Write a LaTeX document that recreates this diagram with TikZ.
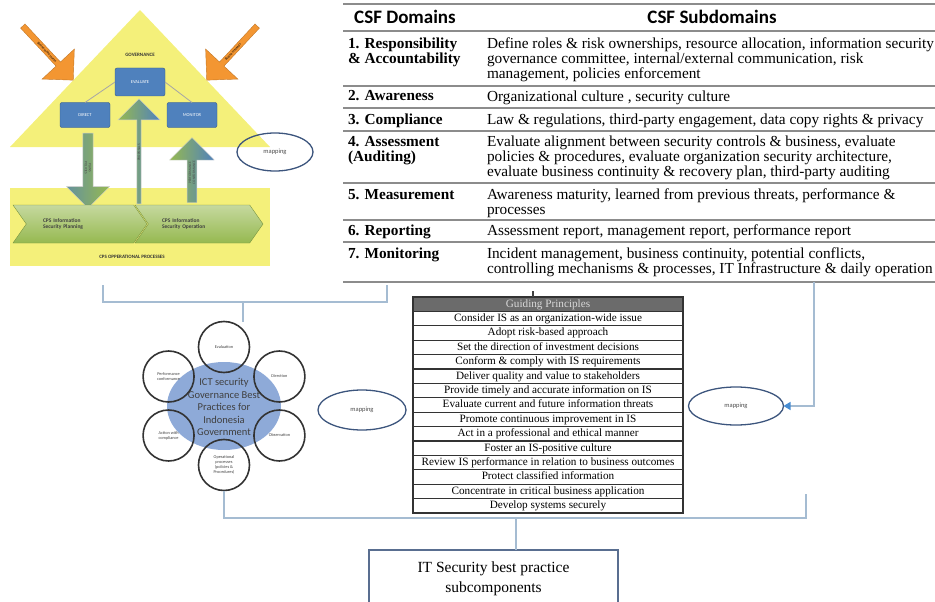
\documentclass[tikz,border=0pt]{standalone}
\usepackage{fontspec}
\setmainfont{Liberation Serif}
\newfontfamily\calibri{Carlito}
\usepackage{tikz}
\usetikzlibrary{shapes.arrows,shapes.symbols,shapes.geometric,arrows.meta,positioning}
\definecolor{govyellow}{RGB}{244,240,122}
\definecolor{boxblue}{RGB}{79,129,189}
\definecolor{pressorange}{RGB}{243,150,50}
\definecolor{leafgreen}{RGB}{150,185,80}
\definecolor{coreblue}{RGB}{142,170,216}
\definecolor{mapblue}{RGB}{60,85,125}
\definecolor{linkblue}{RGB}{165,188,210}
\definecolor{tipblue}{RGB}{70,140,210}
\newcommand{\csfrow}[4]{
    \node (#1dom) [csfdom] at (348,#2) {#3};
    \node (#1sub) [csfsub] at (487,#2) {#4};
}

\begin{document}
\begin{tikzpicture}[x=1pt,y=-1pt,every node/.style={inner sep=0pt,outer sep=0pt}]

\tikzstyle{govbox}=[rounded corners=2pt,fill=boxblue,draw=boxblue!70!black,text=white,font=\calibri\fontsize{4.5}{5}\selectfont,minimum width=50pt,minimum height=25pt]
\tikzstyle{govtext}=[font=\calibri\bfseries\fontsize{5}{6}\selectfont,text=black!80]
\tikzstyle{pressarrow}=[single arrow,single arrow head extend=9pt,minimum height=74pt,minimum width=44pt,fill=pressorange,draw=pressorange!80!black,font=\calibri\fontsize{3.5}{4}\selectfont]
\tikzstyle{flowarrow}=[single arrow,align=center,draw=black!20,font=\calibri\fontsize{3.5}{4}\selectfont,text=black!70]
\tikzstyle{chevron}=[signal,signal from=west,signal to=east,signal pointer angle=110,minimum height=38pt,top color=leafgreen!55!white,bottom color=leafgreen,draw=leafgreen!80!black,align=left,text width=74pt,font=\calibri\bfseries\fontsize{5.5}{6.5}\selectfont,text=black!75]
\tikzstyle{ictcircle}=[circle,draw=black!80,line width=1.6pt,minimum size=51pt,align=center,font=\calibri\fontsize{4.3}{5}\selectfont,text=black!75]
\tikzstyle{mapping}=[ellipse,draw=mapblue,line width=1.3pt,font=\calibri\fontsize{6.5}{7}\selectfont,text=black!70]
\tikzstyle{link}=[draw=linkblue,line width=1.2pt]
\tikzstyle{csfrule}=[draw=black!45,line width=1.1pt]
\tikzstyle{csfhead}=[font=\calibri\bfseries\fontsize{19}{21}\selectfont]
\tikzstyle{csfdom}=[anchor=north west,align=left,font=\bfseries\fontsize{15.3}{15}\selectfont]
\tikzstyle{csfsub}=[anchor=north west,align=left,font=\fontsize{15.3}{15}\selectfont]
\tikzstyle{gprow}=[draw=black!80,line width=1.1pt,fill=white,minimum width=270pt,minimum height=14.4pt,text height=8pt,text depth=2.4pt,font=\fontsize{11.2}{12}\selectfont]

\useasboundingbox (0,0) rectangle (935,602);
\clip (0,0) rectangle (935,602);

% governance house
\fill[govyellow] (140,10) -- (270,147) -- (10,147) -- cycle;
\fill[govyellow] (10,188) rectangle (270,266);
\node (governance) [govtext] at (140,55) {GOVERNANCE};
\node (pressures) [pressarrow,rotate=-47] at (47,52) {Business Pressures};
\node (needs) [pressarrow,rotate=47,shape border rotate=180] at (233,52) {Business Needs};

\node (evaluate) [govbox,minimum height=28pt] at (140,82) {EVALUATE};
\node (direct) [govbox] at (85,115) {DIRECT};
\node (monitor) [govbox] at (192,115) {MONITOR};
\draw[black!35,line width=0.8pt] (evaluate.west) -- (direct.north);
\draw[black!35,line width=0.8pt] (evaluate.east) -- (monitor.north);

\node (plans) [flowarrow,rotate=-90,minimum height=75pt,minimum width=43pt,single arrow head extend=10.5pt,left color=boxblue!70!leafgreen,right color=leafgreen] at (88,168) {PLANS\\POLICIES};
\node (proposals) [flowarrow,rotate=90,minimum height=105pt,minimum width=42pt,single arrow head extend=12pt,left color=leafgreen,right color=boxblue] at (139,152.5) {PROPOSALS};
\node (performance) [flowarrow,rotate=90,minimum height=65pt,minimum width=45pt,single arrow head extend=12pt,left color=leafgreen,right color=boxblue] at (192,172.5) {PERFORMANCE\\CONFORMANCE};

\node (planning) [chevron,minimum width=134pt] at (80,224) {CPS Information\\Security Planning};
\node (operation) [chevron,minimum width=128pt] at (199,224) {CPS Information\\Security Operation};
\node (cpsops) [govtext] at (132,257) {CPS OPPERATIONAL PROCESSES};

\node (mapgov) [mapping,minimum width=76pt,minimum height=38pt] at (275,152) {mapping};

% CSF table
\foreach \y in {4,31,86,108,131,183,220,242,282} {
    \draw[csfrule] (343,\y) -- (935,\y);
}
\node (domhead) [csfhead] at (405,17) {CSF Domains};
\node (subhead) [csfhead] at (712,17) {CSF Subdomains};
\csfrow{resp}{38}{1. Responsibility\\\& Accountability}{Define roles \& risk ownerships, resource allocation, information security\\governance committee, internal/external communication, risk\\management, policies enforcement}
\csfrow{aware}{90.5}{2. Awareness}{Organizational culture , security culture}
\csfrow{compl}{113.5}{3. Compliance}{Law \& regulations, third-party engagement, data copy rights \& privacy}
\csfrow{assess}{136}{4. Assessment\\(Auditing)}{Evaluate alignment between security controls \& business, evaluate\\policies \& procedures, evaluate organization security architecture,\\evaluate business continuity \& recovery plan, third-party auditing}
\csfrow{measure}{189}{5. Measurement}{Awareness maturity, learned from previous threats, performance \&\\processes}
\csfrow{report}{225}{6. Reporting}{Assessment report, management report, performance report}
\csfrow{monit}{248}{7. Monitoring}{Incident management, business continuity, potential conflicts,\\controlling mechanisms \& processes, IT Infrastructure \& daily operation}

% guiding principles
\node (gphead) [gprow,fill=black!58,text=white!85!black] at (548,304.2) {Guiding Principles};
\foreach \t [count=\i] in {Consider IS as an organization-wide issue,Adopt risk-based approach,Set the direction of investment decisions,Conform \& comply with IS requirements,Deliver quality and value to stakeholders,Provide timely and accurate information on IS,Evaluate current and future information threats,Promote continuous improvement in IS,Act in a professional and ethical manner,Foster an IS-positive culture,Review IS performance in relation to business outcomes,Protect classified information,Concentrate in critical business application,Develop systems securely} {
    \node (gp\i) [gprow] at (548,{304.2+14.4*\i}) {\t};
}
\draw[black!75,line width=1.5pt] ([xshift=-15pt]gphead.north) -- ++(0,-6);

% ICT security governance circles
\node (ictcore) [ellipse,fill=coreblue,minimum width=114pt,minimum height=88pt] at (224,406) {};
\foreach \a/\t [count=\i] in {90/Evaluation,30/Direction,-30/Observation,-90/{Operational\\processes\\(policies \&\\Procedures)},-150/{Action with\\compliance},150/{Performance\\conformance}} {
    \node (ict\i) [ictcircle] at ({224+64*cos(\a)},{406-59*sin(\a)}) {\t};
}
\node (icttext) [align=center,font=\calibri\fontsize{10.5}{12.5}\selectfont,text=black!75] at (224,407) {ICT security\\Governance Best\\Practices for\\Indonesia\\Government};

\node (mapict) [mapping,minimum width=88pt,minimum height=40pt] at (362,410) {mapping};
\node (mapcsf) [mapping,minimum width=95pt,minimum height=38pt] at (736,406) {mapping};

\node (itbox) [draw=mapblue!85,line width=1.3pt,align=center,minimum width=249pt,minimum height=58pt,font=\fontsize{15.5}{20}\selectfont] at (493.5,579) {IT Security best practice\\subcomponents};

% connectors
\coordinate (csfdrop) at (814,282);
\draw[link,-{Triangle[width=8pt,length=7pt,color=tipblue]}] (csfdrop) |- (mapcsf.east);
\coordinate (govleft) at (103,285);
\coordinate (govright) at (387,285);
\coordinate (govbrace) at (243,302);
\draw[link] (govleft) |- (govright |- govbrace) -- (govright);
\draw[link] (govbrace) -- (govbrace |- ict1.north);
\coordinate (ictbrace) at (516,518);
\coordinate (gpright) at (806,494);
\draw[link] (ict4.south) |- (gpright |- ictbrace) -- (gpright);
\draw[link] (ictbrace) -- (ictbrace |- itbox.north);
\end{tikzpicture}
\end{document}
